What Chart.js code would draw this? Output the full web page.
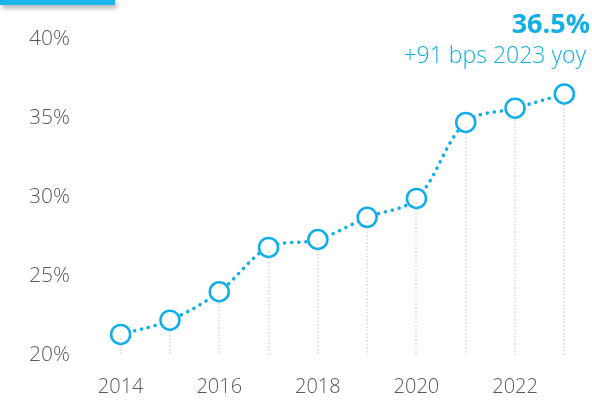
<!DOCTYPE html>
<html><head><meta charset="utf-8">
<script src="https://cdn.jsdelivr.net/npm/chart.js@4"></script>
<style>
html,body{margin:0;padding:0;background:#fff;}
#wrap{position:relative;width:592px;height:400px;overflow:hidden;}
#bar{position:absolute;left:0;top:0;width:115px;height:5px;background:#1bb5ec;box-shadow:2px 3px 5px rgba(0,0,0,0.35);}
#kpi{position:absolute;right:2px;top:5px;font-family:"Open Sans",sans-serif;font-weight:700;font-size:27px;color:#14aee6;line-height:36px;}
#sub{position:absolute;right:6px;top:39px;font-family:"Open Sans",sans-serif;font-weight:300;font-size:23px;color:#14aee6;line-height:30px;}
canvas{position:absolute;left:0;top:0;}
</style></head>
<body><div id="wrap"><canvas id="c" width="592" height="400"></canvas>
<div id="bar"></div><div id="kpi">36.5%</div><div id="sub">+91 bps 2023 yoy</div></div>
<script>
const years = ['2014','2015','2016','2017','2018','2019','2020','2021','2022','2023'];
const shareValues = [21.3, 22.2, 24.0, 26.8, 27.3, 28.7, 29.9, 34.7, 35.6, 36.5];
const yTicks = [20, 25, 30, 35, 40];

const blue = '#0faeea';
const dropLines = {
  id: 'dropLines',
  afterDatasetsDraw(chart) {
    const ctx = chart.ctx;
    const meta = chart.getDatasetMeta(0);
    const bottom = chart.scales.y.getPixelForValue(yTicks[0]);
    ctx.save();
    ctx.strokeStyle = 'rgba(200,200,200,0.75)';
    ctx.lineWidth = 1.5;
    ctx.setLineDash([1.5, 2]);
    meta.data.forEach(p => {
      ctx.beginPath();
      ctx.moveTo(Math.round(p.x), p.y + 4);
      ctx.lineTo(Math.round(p.x), bottom);
      ctx.stroke();
    });
    ctx.restore();
  }
};

new Chart(document.getElementById('c'), {
  type: 'line',
  data: { labels: years, datasets: [{
    data: shareValues,
    borderColor: blue,
    borderWidth: 3.5,
    borderDash: [0.1, 7],
    borderCapStyle: 'round',
    tension: 0.35,
    pointRadius: 9.5,
    pointHoverRadius: 9.5,
    pointBorderWidth: 2.5,
    pointBackgroundColor: '#fff',
    pointBorderColor: blue
  }]},
  options: {
    responsive: false,
    animation: false,
    layout: { autoPadding: false, padding: { left: 0, right: 3, top: 37, bottom: 0 } },
    plugins: { legend: { display: false }, tooltip: { enabled: false } },
    scales: {
      x: {
        offset: true,
        afterFit(s) { s.height = 45; },
        grid: { display: false, drawTicks: false },
        border: { display: false },
        ticks: {
          autoSkip: false, maxRotation: 0, padding: 20,
          color: '#595959', font: { family: 'Open Sans', weight: 300, size: 20 },
          callback: function(v, i) { return i % 2 === 0 ? years[i] : ''; }
        }
      },
      y: {
        min: 20, max: 40,
        afterFit(s) { s.width = 96; },
        afterBuildTicks(s) { s.ticks = yTicks.map(v => ({ value: v })); },
        grid: { display: false, drawTicks: false },
        border: { display: false },
        ticks: {
          padding: 26,
          color: '#595959', font: { family: 'Open Sans', weight: 300, size: 21 },
          callback: v => v + '%'
        }
      }
    }
  },
  plugins: [dropLines]
});
</script></body></html>
